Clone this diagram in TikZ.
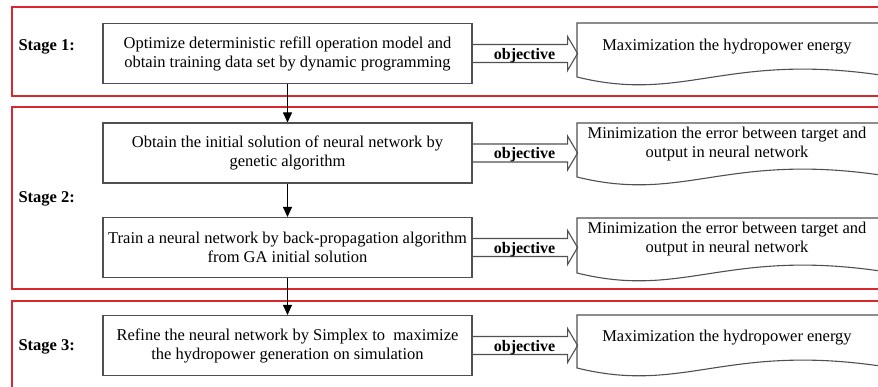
\documentclass[tikz,border=0pt]{standalone}
\usepackage{fontspec}
\setmainfont{Liberation Serif}
\usetikzlibrary{arrows.meta}

\definecolor{stagered}{RGB}{214,40,46}
\definecolor{boxgray}{RGB}{80,80,80}

\tikzset{
  stagebox/.style={draw=stagered, line width=1.6pt},
  stagelabel/.style={anchor=west, font=\fontsize{16.5}{19}\selectfont\bfseries},
  objlabel/.style={font=\fontsize{16}{19}\selectfont\bfseries},
  taskbox/.style={draw=boxgray, line width=1.1pt, minimum width=369pt,
    minimum height=60pt, align=center, inner sep=0pt},
  goaltext/.style={align=center, inner sep=0pt},
  objarrow/.style={draw=boxgray, line width=1.1pt, line join=miter},
  flow/.style={-{Triangle[length=10pt,width=9pt]}, line width=1pt},
}

% document shape with a wavy bottom: #1 = top, #2 = bottom at the left edge
\newcommand{\goaldoc}[2]{%
  \draw[objarrow] (910,#1) -- (577,#1) -- (577,#2)
    .. controls (690,{#2+28}) and (730,{#2-31}) .. (910,{#2+3});}

% hollow "objective" arrow leaving the right side of a box
\newcommand{\objarrow}[1]{%
  \draw[objarrow] ([yshift=9pt]#1.east) -- ++(95,0) -- ++(0,-8)
    -- ++(10,17) -- ++(-10,17) -- ++(0,-8) -- ++(-95,0);}

\begin{document}
\begin{tikzpicture}[x=1pt, y=-1pt, font=\fontsize{16.5}{19}\selectfont]

    \useasboundingbox (0,0) rectangle (878,387);
    \clip (0,0) rectangle (878,387);
    \fill[white] (0,0) rectangle (878,387);

    % 1. the three stage frames
    \draw[stagebox] (12,7) rectangle (905,96);
    \draw[stagebox] (12,107) rectangle (905,289);
    \draw[stagebox] (12,301) rectangle (905,400);

    \node[stagelabel] (stage1) at (15,47) {Stage 1:};
    \node[stagelabel] (stage2) at (15,199) {Stage 2:};
    \node[stagelabel] (stage3) at (15,347) {Stage 3:};

    % 2. the steps
    \node[taskbox] (s1box) at (287.5,53.5)
      {Optimize deterministic refill operation model and\\
       obtain training data set by dynamic programming};
    \node[taskbox] (s2ga) at (287.5,153)
      {Obtain the initial solution of neural network by\\
       genetic algorithm};
    \node[taskbox] (s2bp) at (287.5,247.5)
      {Train a neural network by back-propagation algorithm\\
       from GA initial solution};
    \node[taskbox] (s3box) at (287.5,345.5)
      {Refine the neural network by Simplex to\ \ maximize\\
       the hydropower generation on simulation};

    \draw[flow] (s1box) -- (s2ga);
    \draw[flow] (s2ga) -- (s2bp);
    \draw[flow] (s2bp) -- (s3box);

    % 3. objectives
    \objarrow{s1box}
    \objarrow{s2ga}
    \objarrow{s2bp}
    \objarrow{s3box}
    \node[objlabel] (obj1) at ([xshift=52pt,yshift=-2pt]s1box.east) {objective};
    \node[objlabel] (obj2) at ([xshift=52pt,yshift=-2pt]s2ga.east) {objective};
    \node[objlabel] (obj3) at ([xshift=52pt,yshift=-2pt]s2bp.east) {objective};
    \node[objlabel] (obj4) at ([xshift=52pt,yshift=-2pt]s3box.east) {objective};

    \goaldoc{23}{77}
    \goaldoc{123}{177}
    \goaldoc{218}{273}
    \goaldoc{315}{368}

    \node[goaltext] (goal1) at (727,47) {Maximization the hydropower energy};
    \node[goaltext] (goal2) at (727,144)
      {Minimization the error between target and\\ output in neural network};
    \node[goaltext] (goal3) at (727,239)
      {Minimization the error between target and\\ output in neural network};
    \node[goaltext] (goal4) at (727,338) {Maximization the hydropower energy};

\end{tikzpicture}
\end{document}
